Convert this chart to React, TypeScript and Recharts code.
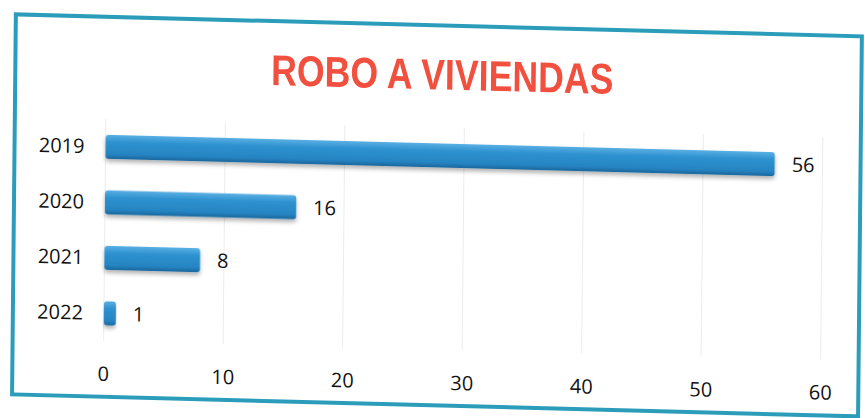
import { Bar, BarChart, CartesianGrid, LabelList, XAxis, YAxis } from 'recharts';

const years = ['2019', '2020', '2021', '2022'];
const robos = [56, 16, 8, 1];
const xTicks = [0, 10, 20, 30, 40, 50, 60];

const chartData = years.map((year, i) => ({ year, robos: robos[i] }));

const font = '"Open Sans", "Liberation Sans", sans-serif';

export default function App() {
  return (
    <div
      style={{
        position: 'fixed',
        left: 0,
        top: 0,
        width: 865,
        height: 418,
        background: '#fff',
        overflow: 'hidden',
      }}
    >
      <div
        style={{
          position: 'absolute',
          left: 0,
          top: 0,
          width: 865,
          height: 418,
          transformOrigin: '0 0',
          transform: 'matrix(1, 0.026, -0.010, 1, 0, 0)',
        }}
      >
        <div
          style={{
            position: 'absolute',
            left: 14,
            top: 12,
            width: 850,
            height: 384,
            border: '4px solid #2b9dba',
            boxSizing: 'border-box',
          }}
        />
        <div
          style={{
            position: 'absolute',
            left: 143,
            top: 36,
            width: 600,
            textAlign: 'center',
            fontFamily: '"Liberation Sans", sans-serif',
            fontWeight: 700,
            fontSize: 43,
            lineHeight: '54px',
            color: '#f2503f',
            transform: 'scaleX(0.83)',
            transformOrigin: '50% 50%',
          }}
        >
          ROBO A VIVIENDAS
        </div>
        <div style={{ position: 'absolute', left: 0, top: 0 }}>
          <BarChart
            width={865}
            height={418}
            data={chartData}
            layout="vertical"
            margin={{ top: 116, right: 41, bottom: 20, left: 0 }}
          >
            <defs>
              <linearGradient id="barFill" x1="0" y1="0" x2="0" y2="1">
                <stop offset="0%" stopColor="#5aafe3" />
                <stop offset="30%" stopColor="#2e92d0" />
                <stop offset="80%" stopColor="#2684c2" />
                <stop offset="100%" stopColor="#1a679c" />
              </linearGradient>
              <filter id="barShadow" x="-5%" y="-30%" width="110%" height="180%">
                <feDropShadow dx="0" dy="3" stdDeviation="2" floodColor="#000" floodOpacity="0.3" />
              </filter>
            </defs>
            <CartesianGrid horizontal={false} stroke="#ececec" />
            <XAxis
              type="number"
              domain={[0, 60]}
              ticks={xTicks}
              axisLine={false}
              tickLine={false}
              tickSize={0}
              tickMargin={26}
              height={60}
              tick={{ fill: '#111', fontSize: 20, fontFamily: font }}
            />
            <YAxis
              type="category"
              dataKey="year"
              width={107}
              axisLine={false}
              tickLine={false}
              tickSize={0}
              tickMargin={21}
              tick={{ fill: '#111', fontSize: 20, fontFamily: font }}
            />
            <Bar
              dataKey="robos"
              fill="url(#barFill)"
              barSize={24}
              radius={3}
              filter="url(#barShadow)"
              isAnimationActive={false}
            >
              <LabelList
                dataKey="robos"
                position="right"
                offset={17}
                fill="#111"
                fontSize={20}
                fontFamily={font}
              />
            </Bar>
          </BarChart>
        </div>
      </div>
    </div>
  );
}
